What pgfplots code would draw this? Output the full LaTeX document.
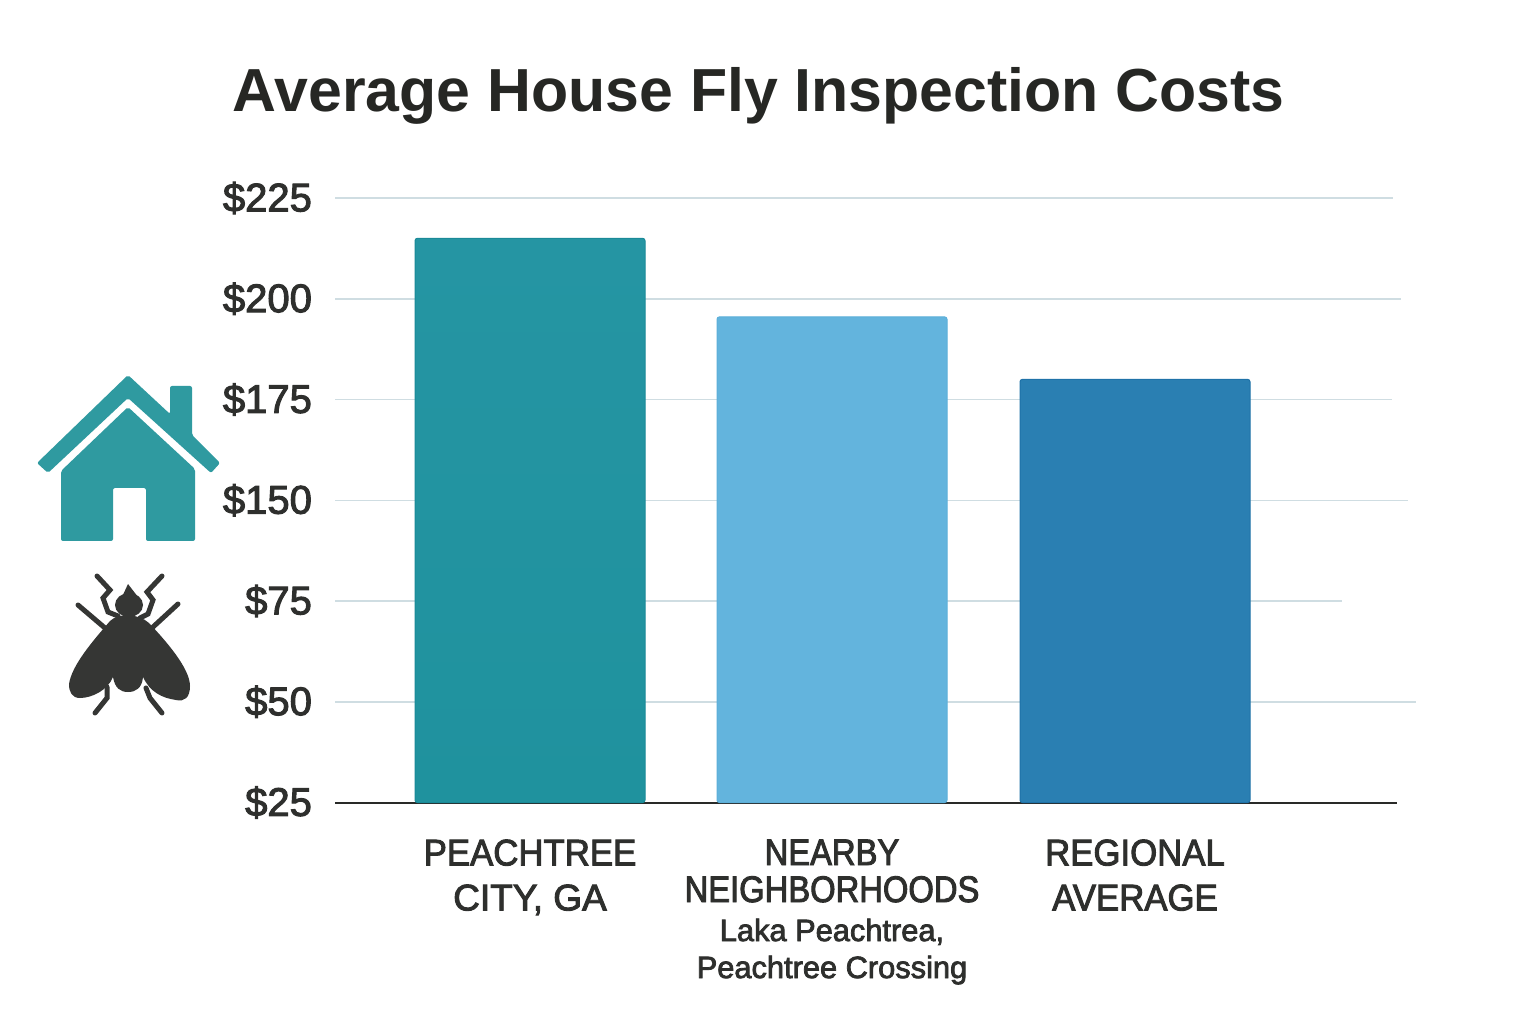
\documentclass[border=0pt]{standalone}
\usepackage{pgfplots}
\pgfplotsset{compat=1.18}
\usepackage{fontspec}
\setmainfont{Liberation Sans}
\newfontfamily\medfont[FakeBold=2.5]{Liberation Sans}
\newfontfamily\catfont[FakeBold=2.5,FakeStretch=0.94]{Liberation Sans}
\newfontfamily\catfontn[FakeBold=2.5,FakeStretch=0.885]{Liberation Sans}
\definecolor{inkc}{HTML}{2E2F2D}
\definecolor{titlec}{HTML}{262724}
\definecolor{teal1}{HTML}{2595A3}
\definecolor{teal2}{HTML}{168F9D}
\definecolor{teal3}{HTML}{1F929E}
\definecolor{teale}{HTML}{1A8A98}
\definecolor{lblue}{HTML}{63B4DD}
\definecolor{lbluee}{HTML}{5CAFD9}
\definecolor{dblue}{HTML}{2A7FB2}
\definecolor{dbluee}{HTML}{1F72A8}
\definecolor{gridc}{HTML}{CFDDE2}
\definecolor{housec}{HTML}{2F9AA0}
\definecolor{flyc}{HTML}{353634}
\begin{document}
\begin{tikzpicture}[x=1pt,y=1pt]
\path[use as bounding box,fill=white] (0,0) rectangle (768,512);
\begin{axis}[
  at={(167.5pt,110.75pt)},anchor=south west,
  scale only axis,width=531pt,height=302.25pt,
  xmin=335,xmax=1397,ymin=25,ymax=225,
  y coord trafo/.code={\pgfmathparse{#1<=75 ? (#1-25)/25 : (#1<=150 ? 2+(#1-75)/75 : 3+(#1-150)/25)}},
  axis x line*=bottom,axis y line*=left,
  x axis line style={draw=inkc!90!black,line width=1pt,-},
  y axis line style={draw=none},
  major tick length=0pt,
  ytick={25,50,75,150,175,200,225},
  yticklabels={\$25,\$50,\$75,\$150,\$175,\$200,\$225},
  yticklabel style={font=\medfont\fontsize{20}{20}\selectfont,text=inkc,anchor=east,xshift=-8pt},
  xtick={530,832,1135},
  xticklabels={
    {PEACHTREE\\[4pt]{\medfont\fontsize{18.5}{18.5}\selectfont CITY, GA}},
    {{\catfontn\fontsize{18.5}{18.5}\selectfont NEARBY}\\[0pt]{\catfontn\fontsize{18.5}{18.5}\selectfont NEIGHBORHOODS}\\[1pt]{\medfont\fontsize{15.4}{18}\selectfont Laka Peachtrea,}\\[0pt]{\medfont\fontsize{15.4}{18}\selectfont Peachtree Crossing}},
    {REGIONAL\\[4pt]AVERAGE}},
  xticklabel style={font=\catfont\fontsize{18.5}{18.5}\selectfont,text=inkc,align=center,anchor=north,yshift=-15pt},
  title={Average House Fly Inspection Costs},
  title style={at={(0.399,1.124)},anchor=base,font=\bfseries\fontsize{30.4}{30}\selectfont,text=titlec},
  clip=false,
]
\addplot[gridc,line width=.75pt] coordinates {(335,225)(1393,225)};
\addplot[gridc,line width=.75pt] coordinates {(335,200)(1401,200)};
\addplot[gridc,line width=.75pt] coordinates {(335,175)(1392,175)};
\addplot[gridc,line width=.75pt] coordinates {(335,150)(1408,150)};
\addplot[gridc,line width=.75pt] coordinates {(335,75)(1342,75)};
\addplot[gridc,line width=.75pt] coordinates {(335,50)(1416,50)};
\addplot[ybar,bar width=115pt,bar shift=0pt,draw=teale,top color=teal1,middle color=teal2,bottom color=teal3,line width=.5pt,rounded corners=1.2pt] coordinates {(530,215)};
\addplot[ybar,bar width=115pt,bar shift=0pt,draw=lbluee,fill=lblue,line width=.5pt,rounded corners=1.2pt] coordinates {(832,195.5)};
\addplot[ybar,bar width=115pt,bar shift=0pt,draw=dbluee,fill=dblue,line width=.5pt,rounded corners=1.2pt] coordinates {(1135,180)};
\end{axis}
% icons, in reference pixel coordinates
\begin{scope}[x=0.5pt,y=-0.5pt,shift={(0,-1024)}]
\fill[housec,rounded corners=1pt] (128,375)--(170,414)--(170,386)--(192,386)--(192,435)--(220,463)--(211,473)--(128,398)--(48,473)--(37,463)--cycle;
\fill[housec,rounded corners=1pt] (128,407)--(195,469)--(195,541)--(146,541)--(146,488)--(113,488)--(113,541)--(61,541)--(61,471)--cycle;
\fill[flyc] (128,584)--(138,597)--(122,597)--cycle;
\fill[flyc] (129,605) ellipse[x radius=14,y radius=12];
\fill[flyc] (110,621) .. controls (118,613) and (138,613) .. (149,623)
  .. controls (165,640) and (190,668) .. (190,686)
  .. controls (190,698) and (184,702) .. (176,700)
  .. controls (162,698) and (150,692) .. (143,677)
  .. controls (142,688) and (136,692) .. (128,692)
  .. controls (120,692) and (115,688) .. (113,677)
  .. controls (108,690) and (92,698) .. (80,698)
  .. controls (72,698) and (69,692) .. (69,684)
  .. controls (72,665) and (92,642) .. (110,621) -- cycle;
\begin{scope}[draw=flyc,line width=2.5pt,line cap=round,line join=miter]
\draw (97,576)--(110,590)--(103,598)--(108,612)--(118,616);
\draw (162,576)--(147,592)--(153,600)--(148,614)--(140,618);
\draw (78,605)--(105,628);
\draw (178,604)--(153,627);
\draw (95,713)--(107,698)--(107,687);
\draw (162,713)--(150,698)--(146,688);
\end{scope}
\end{scope}
\end{tikzpicture}
\end{document}
